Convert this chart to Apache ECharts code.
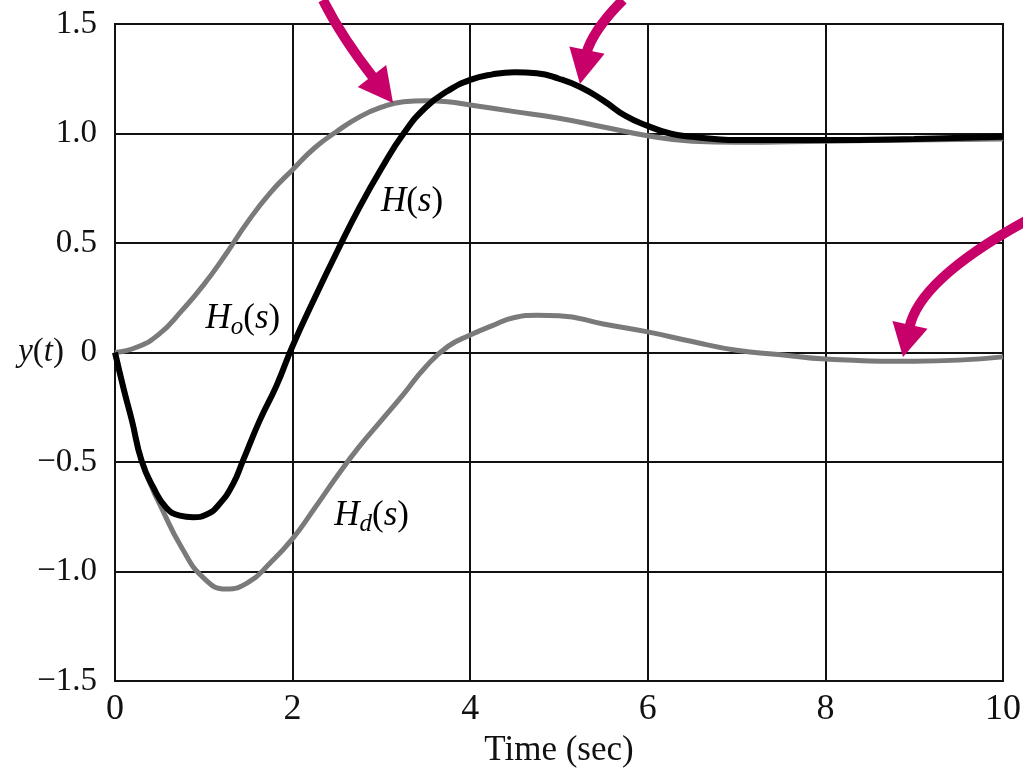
<!DOCTYPE html>
<html>
<head>
<meta charset="utf-8">
<script src="https://cdn.jsdelivr.net/npm/echarts@6.0.0/dist/echarts.min.js"></script>
<style>
  html, body { margin: 0; padding: 0; background: #fff; }
  #chart { width: 1023px; height: 769px; }
</style>
</head>
<body>
<div id="chart"></div>
<script>
// axis ticks
const xTicks = [0, 2, 4, 6, 8, 10];
const yTicks = [-1.5, -1.0, -0.5, 0, 0.5, 1.0, 1.5];
const yTickLabels = ['\u22121.5', '\u22121.0', '\u22120.5', '0', '0.5', '1.0', '1.5'];

// H(s) step response (thick black)
const hTime = [0, 0.1, 0.19, 0.3, 0.43, 0.58, 0.73, 0.88, 1.03, 1.18, 1.33, 1.44, 1.63, 1.82, 2.0, 2.25, 2.5, 2.75, 3.0, 3.25, 3.5, 3.75, 4.0, 4.25, 4.5, 4.75, 5.0, 5.25, 5.5, 5.75, 6.0, 6.25, 6.5, 6.75, 7.0, 8.0, 9.0, 10.0];
const hValue = [0, -0.17, -0.31, -0.495, -0.615, -0.71, -0.745, -0.752, -0.74, -0.69, -0.6, -0.495, -0.31, -0.15, 0.03, 0.25, 0.46, 0.66, 0.84, 1.0, 1.12, 1.195, 1.245, 1.27, 1.28, 1.275, 1.25, 1.21, 1.15, 1.08, 1.035, 1.0, 0.985, 0.975, 0.97, 0.97, 0.975, 0.985];

// Ho(s) (gray)
const hoTime = [0, 0.25, 0.5, 0.75, 1.0, 1.25, 1.5, 1.75, 2.0, 2.25, 2.5, 2.75, 3.0, 3.25, 3.5, 3.75, 4.0, 4.5, 5.0, 5.5, 6.0, 6.5, 7.0, 8.0, 9.0, 10.0];
const hoValue = [0, 0.025, 0.085, 0.19, 0.31, 0.45, 0.6, 0.73, 0.835, 0.935, 1.01, 1.075, 1.12, 1.145, 1.15, 1.145, 1.13, 1.1, 1.07, 1.03, 0.99, 0.965, 0.96, 0.965, 0.97, 0.975];

// Hd(s) (gray)
const hdTime = [0, 0.1, 0.19, 0.3, 0.43, 0.5, 0.75, 1.0, 1.25, 1.5, 1.75, 2.0, 2.25, 2.5, 2.75, 3.0, 3.25, 3.5, 3.75, 4.0, 4.25, 4.5, 4.75, 5.0, 5.5, 6.0, 6.5, 7.0, 7.5, 8.0, 9.0, 10.0];
const hdValue = [0, -0.17, -0.31, -0.495, -0.63, -0.69, -0.89, -1.03, -1.08, -1.05, -0.96, -0.85, -0.71, -0.565, -0.43, -0.31, -0.19, -0.065, 0.028, 0.08, 0.123, 0.16, 0.17, 0.168, 0.13, 0.094, 0.05, 0.01, -0.01, -0.03, -0.04, -0.02];

// curve labels (data coords of label centre)
const labelMains = ['H', 'H', 'H'];
const labelSubs = ['', 'o', 'd'];
const labelTimes = [3.345, 1.44, 2.89];
const labelValues = [0.69, 0.155, -0.745];

// magenta arrows, in data coords (they run past the plot edges)
const arrowStarts = [[2.342, 1.61], [5.721, 1.61], [10.30, 0.61]];
const arrowControls = [[2.551, 1.441], [5.383, 1.473], [9.054, 0.336]];
const arrowBases = [[2.894, 1.263], [5.315, 1.381], [8.953, 0.126]];
const arrowTips = [[3.131, 1.139], [5.236, 1.226], [8.874, -0.02]];

const serif = 'Liberation Serif';
const arrowColor = '#c8006a';

const zip = (xs, ys) => xs.map((x, i) => [x, ys[i]]);

const chart = echarts.init(document.getElementById('chart'));
chart.setOption({
  backgroundColor: '#fff',
  animation: false,
  grid: {
    left: 115, right: 20, top: 24, bottom: 88,
    show: true, borderColor: '#111', borderWidth: 2,
    outerBoundsMode: 'none'
  },
  xAxis: {
    type: 'value',
    min: 0, max: 10, interval: 2,
    name: 'Time (sec)',
    nameLocation: 'middle',
    nameGap: 46,
    nameTextStyle: { fontFamily: serif, fontSize: 35, color: '#111' },
    axisLine: { show: false },
    axisTick: { show: false },
    axisLabel: {
      margin: 11,
      fontFamily: serif, fontSize: 36, color: '#111',
      formatter: v => (xTicks.includes(v) ? String(v) : '')
    },
    splitLine: { show: true, lineStyle: { color: '#111', width: 2 } }
  },
  yAxis: {
    type: 'value',
    min: -1.5, max: 1.5, interval: 0.5,
    axisLine: { show: false },
    axisTick: { show: false },
    axisLabel: {
      margin: 18,
      fontFamily: serif, fontSize: 33, color: '#111',
      formatter: v => {
        const i = yTicks.findIndex(t => Math.abs(t - v) < 1e-9);
        if (i < 0) return '';
        return v === 0 ? '{it|y}({it|t})  ' + yTickLabels[i] : yTickLabels[i];
      },
      rich: {
        it: { fontFamily: serif, fontSize: 33, fontStyle: 'italic', color: '#111' }
      }
    },
    splitLine: { show: true, lineStyle: { color: '#111', width: 2 } }
  },
  series: [
    {
      name: 'Ho(s)', type: 'line', data: zip(hoTime, hoValue),
      smooth: 0.5, symbol: 'none',
      lineStyle: { color: '#7a7a7a', width: 5 }
    },
    {
      name: 'Hd(s)', type: 'line', data: zip(hdTime, hdValue),
      smooth: 0.5, symbol: 'none',
      lineStyle: { color: '#7a7a7a', width: 5 }
    },
    {
      name: 'H(s)', type: 'line', data: zip(hTime, hValue),
      smooth: 0.5, symbol: 'none',
      lineStyle: { color: '#000', width: 6 }
    },
    {
      type: 'scatter', symbolSize: 0, silent: true,
      itemStyle: { opacity: 1 },
      data: zip(labelTimes, labelValues),
      label: {
        show: true,
        position: 'inside',
        formatter: p => {
          const i = p.dataIndex;
          const sub = labelSubs[i] ? '{sub|' + labelSubs[i] + '}' : '';
          return '{it|' + labelMains[i] + '}' + sub + '{up|(}{it|s}{up|)}';
        },
        rich: {
          it: { fontFamily: serif, fontSize: 35, fontStyle: 'italic', color: '#000' },
          up: { fontFamily: serif, fontSize: 35, color: '#000' },
          sub: { fontFamily: serif, fontSize: 25, fontStyle: 'italic', color: '#000', padding: [18, 0, 0, 0] }
        }
      }
    }
  ]
});

function arrowShapes(i) {
  const px = pt => chart.convertToPixel({ gridIndex: 0 }, pt);
  const s = px(arrowStarts[i]);
  const c = px(arrowControls[i]);
  const b = px(arrowBases[i]);
  const t = px(arrowTips[i]);
  const dx = t[0] - b[0], dy = t[1] - b[1];
  const len = Math.hypot(dx, dy);
  const nx = -dy / len, ny = dx / len;
  const hw = 18;
  return [
    {
      type: 'bezierCurve', z: 100,
      shape: { x1: s[0], y1: s[1], cpx1: c[0], cpy1: c[1], x2: b[0] + dx * 0.1, y2: b[1] + dy * 0.1 },
      style: { stroke: arrowColor, lineWidth: 10, fill: null }
    },
    {
      type: 'polygon', z: 100,
      shape: { points: [t, [b[0] + nx * hw, b[1] + ny * hw], [b[0] - nx * hw, b[1] - ny * hw]] },
      style: { fill: arrowColor }
    }
  ];
}

chart.setOption({
  graphic: arrowStarts.flatMap((_, i) => arrowShapes(i))
});
</script>
</body>
</html>
